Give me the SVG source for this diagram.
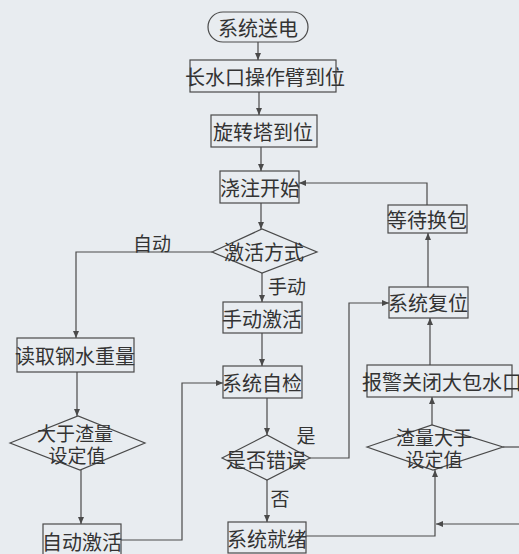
<svg xmlns="http://www.w3.org/2000/svg" width="519" height="554" viewBox="0 0 519 554">
<defs>
<style>
.bg{fill:#e8ecf0}
.box{fill:none;stroke:#4a4a4a;stroke-width:1.2}
.c{fill:none;stroke:#4a4a4a;stroke-width:1.2}
.arr{marker-end:url(#ah)}
text{font-family:"Noto Sans CJK SC","Noto Sans",sans-serif;font-size:20px;fill:#333;text-anchor:middle;dominant-baseline:central}
.lbl{font-size:19px}
.two{font-size:19px}
</style>
<marker id="ah" markerUnits="userSpaceOnUse" markerWidth="8" markerHeight="6" refX="7" refY="3" orient="auto">
<path d="M0,0 L7,3 L0,6 Z" fill="#4a4a4a"/>
</marker>
</defs>
<rect class="bg" x="0" y="0" width="519" height="554"/>
<g id="connectors">
<path class="c arr" d="M258,42 V60"/>
<path class="c arr" d="M259,92 V115"/>
<path class="c arr" d="M261,147 V171"/>
<path class="c arr" d="M261,203 V229"/>
<path class="c arr" d="M212,252 H76 V338"/>
<path class="c arr" d="M262,273 V302"/>
<path class="c arr" d="M262,333 V366"/>
<path class="c arr" d="M77,372 V416"/>
<path class="c arr" d="M81,470 V524"/>
<path class="c arr" d="M121,540 H182 V383 H223"/>
<path class="c arr" d="M267,398 V435"/>
<path class="c arr" d="M310,458 H349 V303 H389"/>
<path class="c arr" d="M267,480 V522"/>
<path class="c arr" d="M306,536 H435 V470"/>
<path class="c arr" d="M519,524 H436"/>
<path class="c" d="M503,447 H519"/>
<path class="c arr" d="M432,425 V397"/>
<path class="c arr" d="M430,365 V318"/>
<path class="c arr" d="M428,287 V233"/>
<path class="c arr" d="M427,205 V183 H299"/>
<text class="lbl" x="152" y="242">自动</text>
<text class="lbl" x="287" y="285">手动</text>
<text class="lbl" x="306" y="434">是</text>
<text class="lbl" x="280" y="497">否</text>
</g>
<g id="n1"><rect class="box" x="208" y="12" width="100" height="30" rx="15"/><text x="258" y="27">系统送电</text></g>
<g id="n2"><rect class="box" x="190" y="60" width="146" height="32"/><text x="265" y="76">长水口操作臂到位</text></g>
<g id="n3"><rect class="box" x="211" y="115" width="106" height="32"/><text x="263" y="131">旋转塔到位</text></g>
<g id="n4"><rect class="box" x="220" y="171" width="79" height="32"/><text x="260" y="187">浇注开始</text></g>
<g id="n5"><polygon class="box" points="212,252 262,229 317,252 262,273"/><text x="264" y="251">激活方式</text></g>
<g id="n6"><rect class="box" x="223" y="302" width="79" height="31"/><text x="262" y="318">手动激活</text></g>
<g id="n7"><rect class="box" x="223" y="366" width="79" height="32"/><text x="262" y="382">系统自检</text></g>
<g id="n8"><polygon class="box" points="222,458 267,435 310,458 267,480"/><text x="266" y="459">是否错误</text></g>
<g id="n9"><rect class="box" x="228" y="522" width="78" height="31"/><text x="267" y="538">系统就绪</text></g>
<g id="n10"><rect class="box" x="17" y="338" width="117" height="34"/><text x="75" y="355">读取钢水重量</text></g>
<g id="n11"><polygon class="box" points="10,443 78,416 145,443 80,470"/><text class="two"><tspan x="75" y="432">大于渣量</tspan><tspan x="77" y="454">设定值</tspan></text></g>
<g id="n12"><rect class="box" x="43" y="524" width="78" height="34"/><text x="82" y="541">自动激活</text></g>
<g id="n13"><rect class="box" x="388" y="205" width="79" height="28"/><text x="427" y="219">等待换包</text></g>
<g id="n14"><rect class="box" x="389" y="287" width="79" height="31"/><text x="428" y="302">系统复位</text></g>
<g id="n15"><rect class="box" x="367" y="365" width="145" height="32"/><text x="362" y="381" style="text-anchor:start">报警关闭大包水口</text></g>
<g id="n16"><polygon class="box" points="367,447 432,425 503,447 433,470"/><text class="two"><tspan x="434" y="436">渣量大于</tspan><tspan x="434" y="458">设定值</tspan></text></g>
</svg>
